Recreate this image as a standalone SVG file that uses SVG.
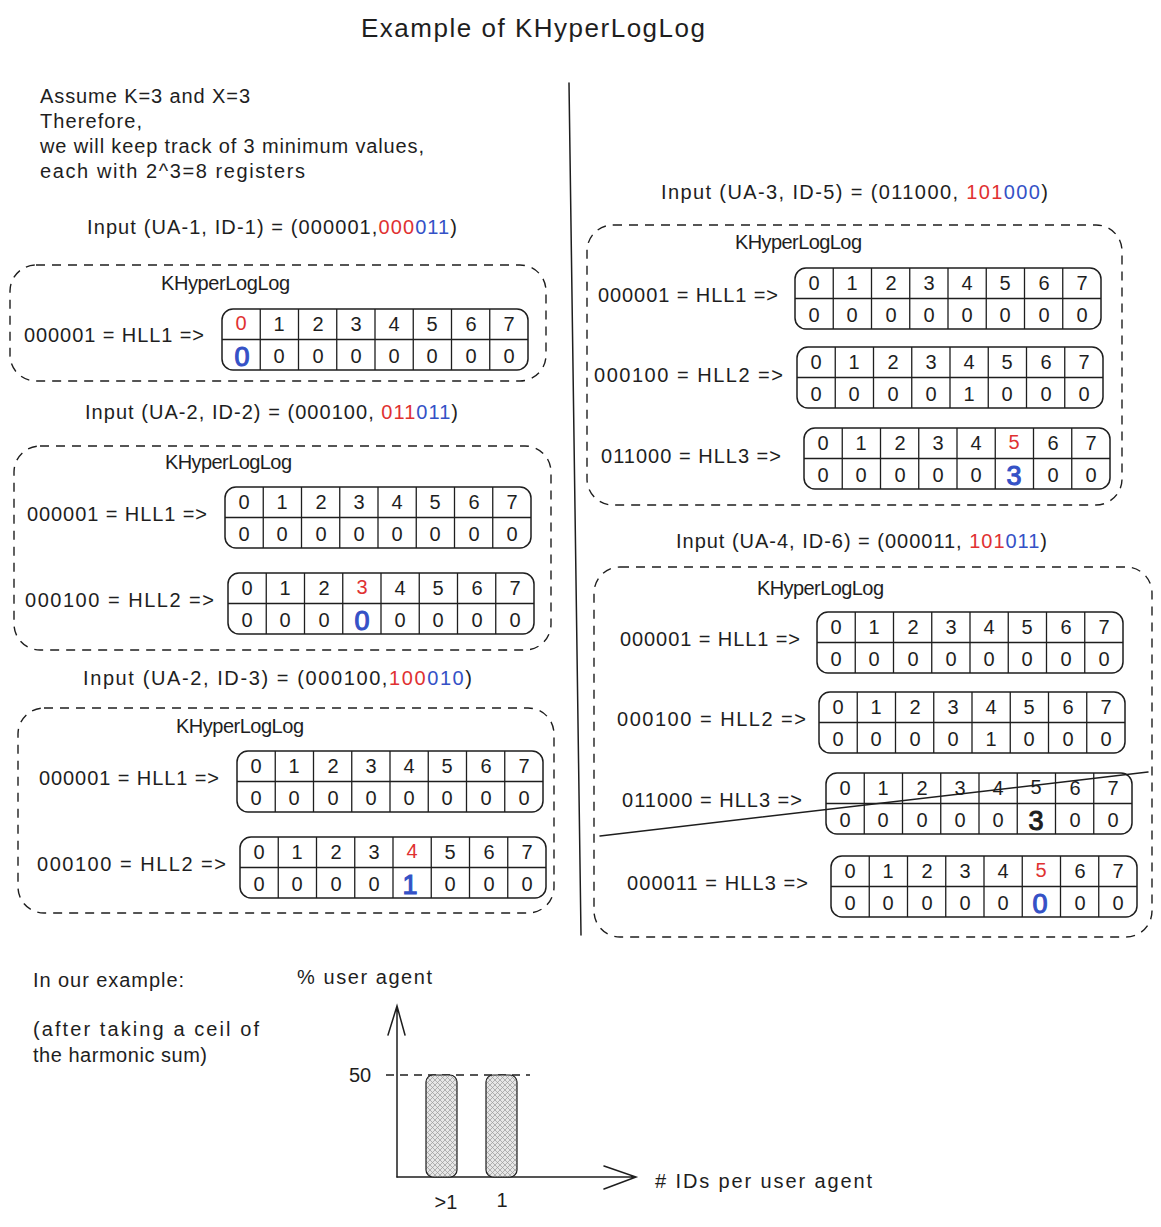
<svg xmlns="http://www.w3.org/2000/svg" xmlns:xlink="http://www.w3.org/1999/xlink" width="1161" height="1227" viewBox="0 0 1161 1227">
<style>
text{font-family:"Liberation Sans","DejaVu Sans",sans-serif;fill:#1e1e1e}
.t{font-size:20px}
.s{font-size:20px}
.d{font-size:20px;text-anchor:middle}
.big{font-size:27px;text-anchor:middle;stroke-width:1.1}
.red{fill:#e03131}
.blue{fill:#3451c6}
.bb{stroke:#3451c6}
.bk{stroke:#1e1e1e}
.box{fill:none;stroke:#1e1e1e;stroke-width:1.4;stroke-dasharray:9 7}
.ln{fill:none;stroke:#1e1e1e;stroke-width:1.5;stroke-linecap:round}
</style>
<defs>
<g id="frame">
<rect x="0" y="0" width="306" height="61" rx="11" fill="none" stroke="#1e1e1e" stroke-width="1.5"/>
<path d="M0 30.5H306M38.25 0V61M76.5 0V61M114.75 0V61M153 0V61M191.25 0V61M229.5 0V61M267.75 0V61" fill="none" stroke="#1e1e1e" stroke-width="1.3"/>
</g>
<text id="hdr" class="d" x="19 57 96 134 172 210 249 287" y="22">01234567</text>
<text id="zer" class="d" x="19 57 96 134 172 210 249 287" y="54">00000000</text>
<pattern id="hatch" width="5" height="5" patternUnits="userSpaceOnUse">
<rect width="5" height="5" fill="#e6e6e6"/>
<path d="M0 0L5 5M5 0L0 5" stroke="#9a9a9a" stroke-width="0.7"/>
</pattern>
</defs>

<text x="533" y="37" font-size="26" text-anchor="middle" textLength="344">Example of KHyperLogLog</text>

<g id="intro" class="s">
<text x="40" y="103" textLength="210">Assume K=3 and X=3</text>
<text x="40" y="128" textLength="102">Therefore,</text>
<text x="40" y="153" textLength="384">we will keep track of 3 minimum values,</text>
<text x="40" y="178" textLength="265">each with 2^3=8 registers</text>
</g>

<g id="connectors">
<path class="ln" d="M569 83L581 935"/>
<path class="ln" d="M600 836L1148 772"/>
<path class="ln" d="M397 1177V1008M388 1035L397 1006L405 1035"/>
<path class="ln" d="M397 1177H636M604 1166L636 1177L604 1189"/>
<path d="M386 1075H530" fill="none" stroke="#1e1e1e" stroke-width="1.4" stroke-dasharray="8 6"/>
</g>

<!-- Block 1 -->
<g id="block1">
<text class="t" x="87" y="234" textLength="370">Input (UA-1, ID-1) = (000001,<tspan class="red">000</tspan><tspan class="blue">011</tspan>)</text>
<rect class="box" x="10" y="265" width="536" height="116" rx="26"/>
<text class="s" x="161" y="290" textLength="129">KHyperLogLog</text>
<text class="t" x="24" y="342" textLength="180">000001 = HLL1 =&gt;</text>
<g id="t1" transform="translate(222,309)">
<use href="#frame"/>
<text class="d red" x="19" y="21">0</text>
<text class="d" x="57 96 134 172 210 249 287" y="22">1234567</text>
<text class="d" x="57 96 134 172 210 249 287" y="54">0000000</text>
<text class="big blue bb" x="20" y="57">0</text>
</g>
</g>

<!-- Block 2 -->
<g id="block2">
<text class="t" x="85" y="419" textLength="373">Input (UA-2, ID-2) = (000100, <tspan class="red">011</tspan><tspan class="blue">011</tspan>)</text>
<rect class="box" x="14" y="446" width="537" height="204" rx="26"/>
<text class="s" x="165" y="469" textLength="127">KHyperLogLog</text>
<text class="t" x="27" y="521" textLength="180">000001 = HLL1 =&gt;</text>
<g id="t2a" transform="translate(225,487)">
<use href="#frame"/><use href="#hdr"/><use href="#zer"/>
</g>
<text class="t" x="25" y="607" textLength="189">000100 = HLL2 =&gt;</text>
<g id="t2b" transform="translate(228,573)">
<use href="#frame"/>
<text class="d" x="19 57 96" y="22">012</text>
<text class="d red" x="134" y="21">3</text>
<text class="d" x="172 210 249 287" y="22">4567</text>
<text class="d" x="19 57 96" y="54">000</text>
<text class="d" x="172 210 249 287" y="54">0000</text>
<text class="big blue bb" x="134" y="57">0</text>
</g>
</g>

<!-- Block 3 -->
<g id="block3">
<text class="t" x="83" y="685" textLength="389">Input (UA-2, ID-3) = (000100,<tspan class="red">100</tspan><tspan class="blue">010</tspan>)</text>
<rect class="box" x="18" y="708" width="536" height="205" rx="26"/>
<text class="s" x="176" y="733" textLength="128">KHyperLogLog</text>
<text class="t" x="39" y="785" textLength="180">000001 = HLL1 =&gt;</text>
<g id="t3a" transform="translate(237,751)">
<use href="#frame"/><use href="#hdr"/><use href="#zer"/>
</g>
<text class="t" x="37" y="871" textLength="189">000100 = HLL2 =&gt;</text>
<g id="t3b" transform="translate(240,837)">
<use href="#frame"/>
<text class="d" x="19 57 96 134" y="22">0123</text>
<text class="d red" x="172" y="21">4</text>
<text class="d" x="210 249 287" y="22">567</text>
<text class="d" x="19 57 96 134" y="54">0000</text>
<text class="d" x="210 249 287" y="54">000</text>
<text class="big blue bb" x="170" y="57">1</text>
</g>
</g>

<!-- Block 4 -->
<g id="block4">
<text class="t" x="661" y="199" textLength="387">Input (UA-3, ID-5) = (011000, <tspan class="red">101</tspan><tspan class="blue">000</tspan>)</text>
<rect class="box" x="587" y="225" width="535" height="280" rx="26"/>
<text class="s" x="735" y="249" textLength="127">KHyperLogLog</text>
<text class="t" x="598" y="302" textLength="180">000001 = HLL1 =&gt;</text>
<g id="t4a" transform="translate(795,268)">
<use href="#frame"/><use href="#hdr"/><use href="#zer"/>
</g>
<text class="t" x="594" y="382" textLength="189">000100 = HLL2 =&gt;</text>
<g id="t4b" transform="translate(797,347)">
<use href="#frame"/><use href="#hdr"/>
<text class="d" x="19 57 96 134 172 210 249 287" y="54">00001000</text>
</g>
<text class="t" x="601" y="463" textLength="180">011000 = HLL3 =&gt;</text>
<g id="t4c" transform="translate(804,428)">
<use href="#frame"/>
<text class="d" x="19 57 96 134 172" y="22">01234</text>
<text class="d red" x="210" y="21">5</text>
<text class="d" x="249 287" y="22">67</text>
<text class="d" x="19 57 96 134 172" y="54">00000</text>
<text class="d" x="249 287" y="54">00</text>
<text class="big blue bb" x="210" y="57">3</text>
</g>
</g>

<!-- Block 5 -->
<g id="block5">
<text class="t" x="676" y="548" textLength="371">Input (UA-4, ID-6) = (000011, <tspan class="red">101</tspan><tspan class="blue">011</tspan>)</text>
<rect class="box" x="594" y="567" width="558" height="370" rx="26"/>
<text class="s" x="757" y="595" textLength="127">KHyperLogLog</text>
<text class="t" x="620" y="646" textLength="180">000001 = HLL1 =&gt;</text>
<g id="t5a" transform="translate(817,612)">
<use href="#frame"/><use href="#hdr"/><use href="#zer"/>
</g>
<text class="t" x="617" y="726" textLength="189">000100 = HLL2 =&gt;</text>
<g id="t5b" transform="translate(819,692)">
<use href="#frame"/><use href="#hdr"/>
<text class="d" x="19 57 96 134 172 210 249 287" y="54">00001000</text>
</g>
<text class="t" x="622" y="807" textLength="180">011000 = HLL3 =&gt;</text>
<g id="t5c" transform="translate(826,773)">
<use href="#frame"/>
<text class="d" x="19 57 96 134 172" y="22">01234</text>
<text class="d" x="210" y="21">5</text>
<text class="d" x="249 287" y="22">67</text>
<text class="d" x="19 57 96 134 172" y="54">00000</text>
<text class="d" x="249 287" y="54">00</text>
<text class="big bk" x="210" y="57">3</text>
</g>
<text class="t" x="627" y="890" textLength="181">000011 = HLL3 =&gt;</text>
<g id="t5d" transform="translate(831,856)">
<use href="#frame"/>
<text class="d" x="19 57 96 134 172" y="22">01234</text>
<text class="d red" x="210" y="21">5</text>
<text class="d" x="249 287" y="22">67</text>
<text class="d" x="19 57 96 134 172" y="54">00000</text>
<text class="d" x="249 287" y="54">00</text>
<text class="big blue bb" x="209" y="57">0</text>
</g>
</g>

<!-- Bottom -->
<g id="notes" class="s">
<text x="33" y="987" textLength="151">In our example:</text>
<text x="33" y="1036" textLength="226">(after taking a ceil of</text>
<text x="33" y="1062" textLength="174">the harmonic sum)</text>
</g>
<g id="chart" class="s">
<text x="297" y="984" textLength="135">% user agent</text>
<text x="349" y="1082">50</text>
<text x="655" y="1188" textLength="217"># IDs per user agent</text>
<rect id="bar1" x="426" y="1075" width="31" height="102" rx="7" fill="url(#hatch)" stroke="#1e1e1e" stroke-width="1.2"/>
<rect id="bar2" x="486" y="1075" width="31" height="102" rx="7" fill="url(#hatch)" stroke="#1e1e1e" stroke-width="1.2"/>
<text x="446" y="1209" text-anchor="middle">&gt;1</text>
<text x="502" y="1207" text-anchor="middle">1</text>
</g>
</svg>
